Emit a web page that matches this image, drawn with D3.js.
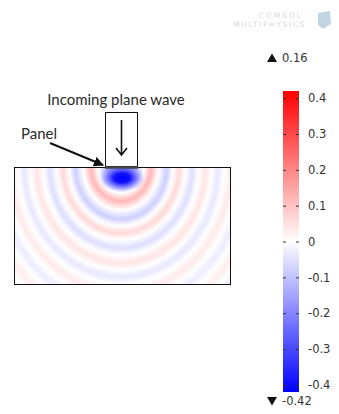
<!DOCTYPE html>
<html>
<head>
<meta charset="utf-8">
<script src="https://cdn.jsdelivr.net/npm/d3@7"></script>
<style>
  html, body { margin: 0; padding: 0; background: #fff; }
  svg { display: block; }
</style>
</head>
<body>
<div id="chart"></div>
<script>
// radial profile of the scattered field, measured downward from the panel centre
const profileRadius = [0, 10, 18, 26, 34, 43, 52, 59, 66, 73, 81, 88, 96, 103, 110, 117, 125, 132, 140, 147, 155, 162, 170, 180];
const profileValue  = [-0.22, -0.2, -0.1, 0, 0.12, 0, -0.08, 0, 0.065, 0, -0.055, 0, 0.045, 0, -0.04, 0, 0.035, 0, -0.032, 0, 0.03, 0, -0.028, 0];
// near-field blob under the panel
const blobOffset = [0, 0.35, 0.7, 1];
const blobValue  = [-0.42, -0.39, -0.25, -0.2];
const blobAlpha  = [1, 1, 0.6, 0];

const colorTicks = [0.4, 0.3, 0.2, 0.1, 0, -0.1, -0.2, -0.3, -0.4];
const colorRange = [-0.42, 0.42];
const dataMax = 0.16, dataMin = -0.42;

const W = 339, H = 414;
const svg = d3.select('#chart').append('svg').attr('width', W).attr('height', H);
const defs = svg.append('defs');

const color = d3.scaleLinear()
  .domain([colorRange[0], 0, colorRange[1]])
  .range(['#0000ff', '#ffffff', '#ff0000'])
  .interpolate(d3.interpolateRgb);

// plot area
const box = {x: 14, y: 167, w: 216, h: 117};
const src = {x: 121, y: 167};
const R = d3.max(profileRadius);
const rScale = d3.scaleLinear().domain([0, R]).range([0, 1]);

const field = defs.append('radialGradient')
  .attr('id', 'field')
  .attr('gradientUnits', 'userSpaceOnUse')
  .attr('cx', src.x).attr('cy', src.y).attr('r', R)
  .attr('gradientTransform', `translate(${src.x},${src.y}) scale(0.88,1) translate(${-src.x},${-src.y})`);
field.selectAll('stop')
  .data(profileRadius)
  .enter().append('stop')
  .attr('offset', d => rScale(d))
  .attr('stop-color', (d, i) => color(profileValue[i]));

const blob = defs.append('radialGradient').attr('id', 'blob');
blob.selectAll('stop')
  .data(blobOffset)
  .enter().append('stop')
  .attr('offset', d => d)
  .attr('stop-color', (d, i) => color(blobValue[i]))
  .attr('stop-opacity', (d, i) => blobAlpha[i]);

defs.append('clipPath').attr('id', 'clip')
  .append('rect').attr('x', box.x).attr('y', box.y).attr('width', box.w).attr('height', box.h);

const plot = svg.append('g').attr('clip-path', 'url(#clip)');
plot.append('rect')
  .attr('x', box.x).attr('y', box.y).attr('width', box.w).attr('height', box.h)
  .attr('fill', 'url(#field)');
plot.append('ellipse')
  .attr('cx', src.x + 1).attr('cy', src.y + 11)
  .attr('rx', 23).attr('ry', 14)
  .attr('fill', 'url(#blob)');

svg.append('rect')
  .attr('x', box.x + 0.5).attr('y', box.y + 0.5).attr('width', box.w).attr('height', box.h)
  .attr('fill', 'none').attr('stroke', '#111').attr('stroke-width', 1);

// incoming wave inset
svg.append('rect')
  .attr('x', 105.5).attr('y', 112.5).attr('width', 32).attr('height', 54)
  .attr('fill', '#fff').attr('stroke', '#111').attr('stroke-width', 1);
svg.append('line')
  .attr('x1', 105).attr('x2', 138).attr('y1', 167.5).attr('y2', 167.5)
  .attr('stroke', '#444').attr('stroke-width', 2.5);
svg.append('path')
  .attr('d', 'M121.5,120 L121.5,155 M116,148 L121.5,155 L127,148')
  .attr('fill', 'none').attr('stroke', '#111').attr('stroke-width', 1.6);

svg.append('text')
  .attr('x', 116).attr('y', 105)
  .attr('text-anchor', 'middle')
  .attr('font-family', 'Lato, sans-serif').attr('font-size', 15)
  .attr('fill', '#2a2a2a')
  .text('Incoming plane wave');

svg.append('text')
  .attr('x', 21).attr('y', 139)
  .attr('font-family', 'Lato, sans-serif').attr('font-size', 15)
  .attr('fill', '#2a2a2a')
  .text('Panel');

defs.append('marker')
  .attr('id', 'head').attr('viewBox', '0 0 10 10')
  .attr('refX', 9).attr('refY', 5)
  .attr('markerWidth', 5).attr('markerHeight', 5)
  .attr('orient', 'auto')
  .append('path').attr('d', 'M0,0 L10,5 L0,10 z').attr('fill', '#111');
svg.append('line')
  .attr('x1', 50).attr('y1', 143).attr('x2', 103).attr('y2', 165)
  .attr('stroke', '#111').attr('stroke-width', 2)
  .attr('marker-end', 'url(#head)');

// colour legend
const bar = {x: 283, y0: 91, y1: 392, w: 16};
const yBar = d3.scaleLinear().domain(colorRange).range([bar.y1, bar.y0]);

const lg = defs.append('linearGradient')
  .attr('id', 'bar').attr('x1', 0).attr('x2', 0).attr('y1', 1).attr('y2', 0);
lg.selectAll('stop')
  .data([colorRange[0], 0, colorRange[1]])
  .enter().append('stop')
  .attr('offset', (d, i) => i / 2)
  .attr('stop-color', d => color(d));

svg.append('rect')
  .attr('x', bar.x).attr('y', bar.y0).attr('width', bar.w).attr('height', bar.y1 - bar.y0)
  .attr('fill', 'url(#bar)');

const axR = svg.append('g')
  .attr('transform', `translate(${bar.x + bar.w},0)`)
  .call(d3.axisRight(yBar).tickValues(colorTicks).tickSize(-3).tickPadding(9).tickFormat(d => String(d)));
const axL = svg.append('g')
  .attr('transform', `translate(${bar.x},0)`)
  .call(d3.axisLeft(yBar).tickValues(colorTicks).tickSize(-3).tickFormat(''));
[axR, axL].forEach(ax => {
  ax.select('.domain').remove();
  ax.selectAll('line').attr('stroke', '#333');
  ax.selectAll('text')
    .attr('font-family', 'DejaVu Sans, sans-serif').attr('font-size', 11.5)
    .attr('fill', '#333');
});

const extremes = [
  {v: dataMax, sym: 'M0,-4.5 L5,4 L-5,4 z', y: 58},
  {v: dataMin, sym: 'M0,4.5 L5,-4 L-5,-4 z', y: 401}
];
const ex = svg.selectAll('g.extreme').data(extremes).enter()
  .append('g').attr('class', 'extreme')
  .attr('transform', d => `translate(272,${d.y})`);
ex.append('path').attr('d', d => d.sym).attr('fill', '#111');
ex.append('text')
  .attr('x', 10).attr('dy', '0.35em')
  .attr('font-family', 'DejaVu Sans, sans-serif').attr('font-size', 11.5)
  .attr('fill', '#333')
  .text(d => String(d.v));

// faded watermark
const wm = svg.append('g').attr('fill', '#dadada')
  .attr('font-family', 'DejaVu Sans, sans-serif').attr('font-size', 7.5).attr('text-anchor', 'end');
wm.append('text').attr('x', 303).attr('y', 18).attr('letter-spacing', 2).text('COMSOL');
wm.append('text').attr('x', 306).attr('y', 27).attr('letter-spacing', 1.6).text('MULTIPHYSICS');
svg.append('path')
  .attr('d', 'M318,13 L330,11 L331,24 L323,29 L318,25 z')
  .attr('fill', '#c2d4e4');
</script>
</body>
</html>
